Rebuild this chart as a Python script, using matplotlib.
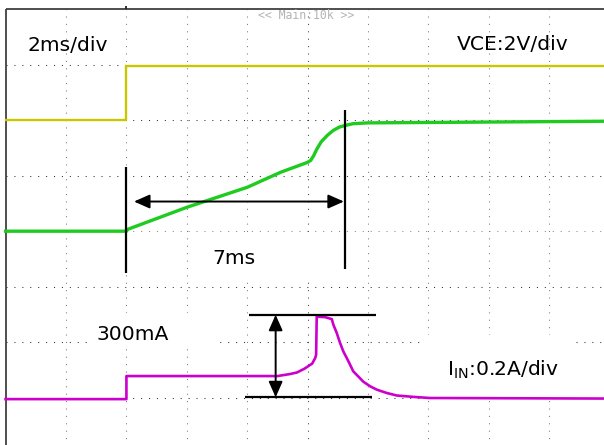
import matplotlib
matplotlib.use("Agg")
import matplotlib.pyplot as plt
from matplotlib.patches import Rectangle

# ---- data (time in ms, 2 ms/div) ----
yellow_t = [0, 4.0, 4.0, 20.0]
yellow_v = [0, 0, 1.96, 1.96]          # 2 V/div, offset 6 div

green_t = [0, 4.0, 4.05, 6.0, 7.0, 8.0, 9.1, 9.75, 10.0, 10.1, 10.2, 10.3,
           10.45, 10.65, 10.85, 11.05, 11.25, 11.5, 12.0, 20.0]
green_v = [0, 0, 0.07, 0.86, 1.22, 1.58, 2.12, 2.38, 2.48, 2.55, 2.72, 2.95,
           3.22, 3.45, 3.63, 3.75, 3.81, 3.87, 3.90, 3.96]  # VCE, 2 V/div, offset 4 div

mag_t = [0, 4.0, 4.0, 9.0, 9.4, 9.65, 9.9, 10.15, 10.25, 10.28, 10.3, 10.58,
         10.8, 10.85, 10.96, 11.07, 11.18, 11.35, 11.51, 11.68, 11.84, 12.07,
         12.29, 12.62, 12.95, 13.5, 14.05, 20.0]
mag_ma = [0, 0, 83, 83, 90, 96, 110, 128, 148, 160, 297, 295, 288, 268, 239,
          203, 172, 136, 100, 81, 63, 46, 34, 22, 13, 8, 4, 2]  # IIN, 200 mA/div

ms_per_div = 2.0
yellow_off, yellow_scale = 6.0, 2.0
green_off, green_scale = 4.0, 2.0
mag_off, mag_scale = 0.977, 200.0

labels = ["2ms/div", "VCE:2V/div", "7ms", "300mA"]

fig = plt.figure(figsize=(6.04, 4.45), dpi=100)
ax = fig.add_axes([0, 0, 1, 1])
ax.axis("off")
ax.set_xlim(-0.185, 19.81)
ax.set_ylim(0.151, 8.162)

# ---- grid ----
for i in range(1, 10):
    x = i * ms_per_div
    c = "#404040" if i == 5 else "#7a7a7a"
    ax.plot([x, x], [0, 8], color=c, lw=0.75, ls=(0, (1, 6.1)), zorder=1)
for j in range(1, 8):
    c = "#8a8a8a" if j == 4 else "#303030"
    ax.plot([0, 20], [j, j], color=c, lw=0.75, ls=(0, (1, 6.6)), zorder=1)

# frame (top & left)
ax.plot([0, 20], [8, 8], color="#404040", lw=1.3, zorder=2, solid_capstyle="butt")
ax.plot([0, 0], [0, 8], color="#404040", lw=1.3, zorder=2, solid_capstyle="butt")
ax.plot([4.0, 4.0], [8.0, 8.05], color="#202020", lw=1.3, zorder=2,
        solid_capstyle="butt")

# white label boxes
for (x0, x1, y0, y1) in [(2.79, 7.0, 1.921, 2.532), (6.27, 10.24, 3.126, 3.899),
                         (13.72, 18.75, 1.058, 2.137)]:
    ax.add_patch(Rectangle((x0, y0), x1 - x0, y1 - y0, facecolor="white",
                           edgecolor="none", zorder=2.5))

# ---- traces ----
ax.plot(yellow_t, [yellow_off + v / yellow_scale for v in yellow_v],
        color="#c8c800", lw=1.7, zorder=3)
ax.plot(green_t, [green_off + v / green_scale for v in green_v],
        color="#1ecb1e", lw=2.4, zorder=3)
ax.plot(mag_t, [mag_off + v / mag_scale for v in mag_ma],
        color="#cc00cc", lw=1.9, zorder=3)

# ---- annotations ----
k = dict(color="black", lw=1.6, zorder=4, solid_capstyle="butt")
ax.plot([4.0, 4.0], [3.252, 5.158], **k)
ax.plot([11.24, 11.24], [3.324, 6.18], **k)
ax.plot([8.06, 12.26], [2.496, 2.496], **k)
ax.plot([7.93, 12.13], [1.009, 1.009], **k)

ap = dict(arrowstyle="<|-|>,head_length=0.95,head_width=0.42", color="black",
          lw=1.4, shrinkA=0, shrinkB=0, mutation_scale=10)
ax.annotate("", xy=(11.2, 4.534), xytext=(4.25, 4.534), arrowprops=ap, zorder=4)
ax.annotate("", xy=(8.94, 2.496), xytext=(8.94, 1.009), arrowprops=ap, zorder=4)

# ---- texts ----
fs = 14.6
ax.text(0.71, 7.334, labels[0], fontsize=fs, ha="left", va="center", zorder=5)
ax.text(14.94, 7.352, labels[1], fontsize=fs, ha="left", va="center", zorder=5)
ax.text(6.86, 3.504, labels[2], fontsize=fs, ha="left", va="center", zorder=5)
ax.text(3.02, 2.137, labels[3], fontsize=fs, ha="left", va="center", zorder=5)
ax.text(14.61, 1.507, r"$\mathregular{I_{IN}}$:0.2A/div", fontsize=fs,
        ha="left", va="center", zorder=5)
ax.text(9.95, 7.874, "<< Main:10k >>", fontsize=8.3, family="DejaVu Sans Mono",
        color="#b4b4b4", ha="center", va="center", zorder=5)

fig.savefig("out.png", dpi=100)
